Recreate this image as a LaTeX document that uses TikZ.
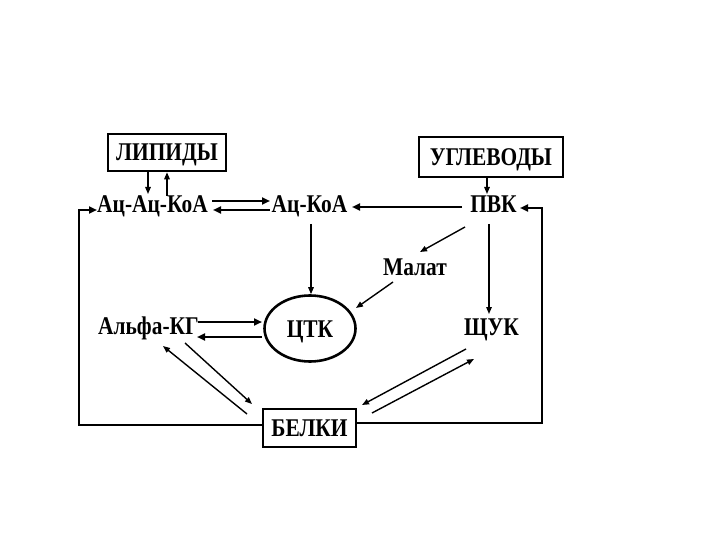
\documentclass[tikz,border=0pt]{standalone}
\usepackage{fontspec}
\setmainfont{Liberation Serif}
\newfontfamily\labfont{Liberation Serif}[FakeStretch=0.84]
\usetikzlibrary{arrows.meta,shapes.geometric}
\begin{document}
\begin{tikzpicture}[x=1pt,y=-1pt,
  lbl/.style={font=\labfont\bfseries\fontsize{25.5}{27}\selectfont,inner sep=0pt,anchor=base},
  box/.style={draw,line width=2.6pt,font=\labfont\bfseries\fontsize{25.5}{27}\selectfont,inner sep=0pt,text height=17pt,text depth=0pt},
  thin/.style={line width=1.4pt,-{Triangle[length=7pt,width=5.5pt]}},
  thick/.style={line width=2.6pt,-{Triangle[length=8pt,width=7pt]}}
]
\useasboundingbox[fill=white] (0,0) rectangle (720,540);
\node[box,minimum width=118pt,minimum height=37pt] (lip) at (167,152.5) {ЛИПИДЫ};
\node[box,minimum width=144pt,minimum height=40pt] (ugl) at (491,157) {УГЛЕВОДЫ};
\node[lbl] (aac) at (152.5,213) {Ац-Ац-КоА};
\node[lbl] (ac) at (309.5,213) {Ац-КоА};
\node[lbl] (pvk) at (493.5,212) {ПВК};
\node[lbl] (mal) at (415,275) {Малат};
\node[lbl] (alfa) at (148.5,334) {Альфа-КГ};
\node[draw,ellipse,line width=2.6pt,minimum width=91pt,minimum height=66pt,inner sep=0pt,font=\labfont\bfseries\fontsize{25.5}{27}\selectfont,text height=17pt,text depth=0pt] (tck) at (310,328.5) {ЦТК};
\node[lbl] (shuk) at (491.5,335) {ЩУК};
\node[box,minimum width=93pt,minimum height=38pt] (bel) at (309.5,428) {БЕЛКИ};

% lipids
\draw[thin] (lip.south -| 148,0) -- (148,194);
\draw[thin] (167,196) -- (lip.south -| 167,0);
% Ац-Ац-КоА <-> Ац-КоА
\draw[thick] (212,201) -- (270,201);
\draw[thick] (270,210) -- (213,210);
% ПВК -> Ац-КоА
\draw[thick] (462,207) -- (352,207);
% УГЛЕВОДЫ -> ПВК
\draw[thin] (ugl.south -| 487,0) -- (487,194);
% ПВК -> Малат
\draw[thin] (465,227) -- (420,252);
% ПВК -> ЩУК
\draw[thin] (489,224) -- (489,314);
% Ац-КоА -> ЦТК
\draw[thin] (311,224) -- (tck.north -| 311,0);
% Малат -> ЦТК
\draw[thin] (393,282) -- (356,308);
% Альфа-КГ <-> ЦТК
\draw[thick] (198,322) -- (262,322);
\draw[thick] (262,337) -- (197,337);
% Альфа-КГ <-> БЕЛКИ
\draw[thin] (185,343) -- (252,404);
\draw[thin] (247,414) -- (163,346);
% ЩУК <-> БЕЛКИ
\draw[thin] (466,349) -- (362,405);
\draw[thin] (372,413) -- (474,359);
% loops
\draw[thick] (bel.west |- 0,425) -- (79,425) -- (79,210) -- (97,210);
\draw[thick] (bel.east |- 0,423) -- (542,423) -- (542,208) -- (520,208);
\end{tikzpicture}
\end{document}
